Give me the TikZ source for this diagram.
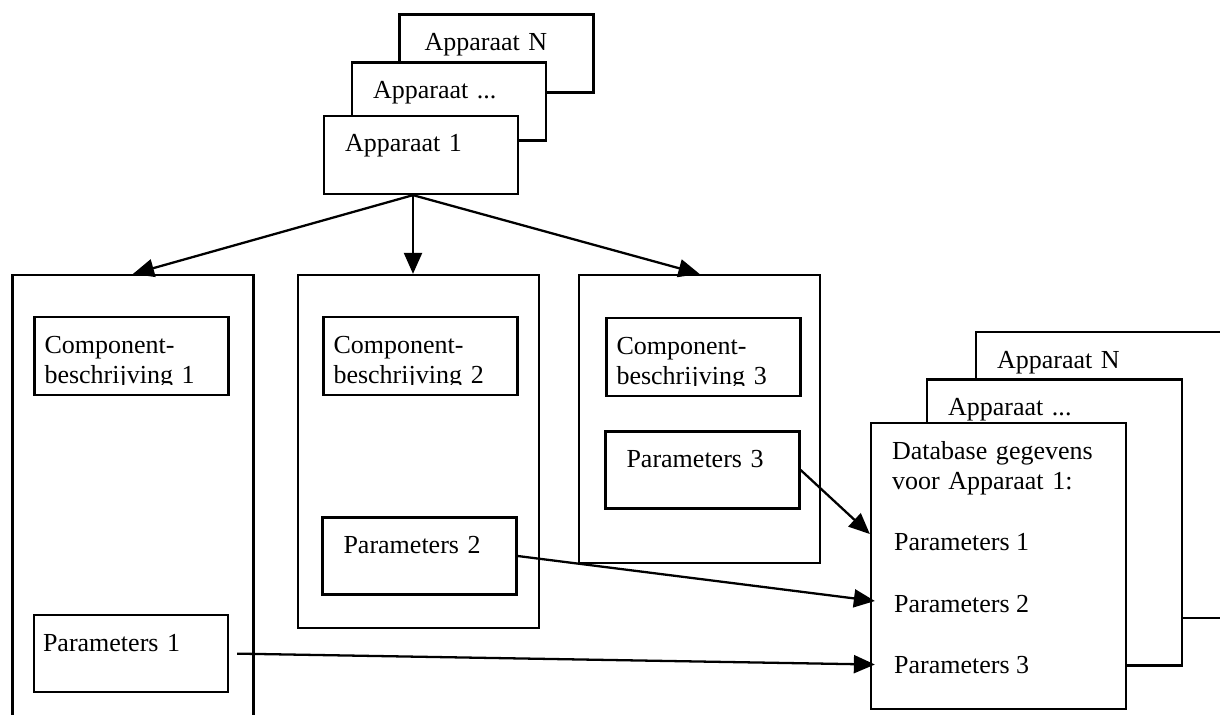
\documentclass[tikz,border=0pt]{standalone}
\usepackage{fontspec}
\setmainfont{Liberation Serif}
\usepackage{tikz}
\usetikzlibrary{arrows.meta, positioning, calc}
\newcommand{\diagfont}{\fontsize{14.8pt}{17.6pt}\selectfont}
\tikzset{
  txtbox/.style={rectangle, draw, fill=white, line width=1.3pt,
    align=left, inner ysep=0.2cm, text height=0.52cm, font=\diagfont},
  appbox/.style={txtbox, inner xsep=0.42cm, text width=3.04cm, text depth=0.64cm},
  compbox/.style={txtbox, inner xsep=0.2cm, text width=3.48cm, text depth=0.64cm},
  parbox/.style={txtbox, inner xsep=0.42cm, text width=3.04cm, text depth=0.62cm},
  dbbox/.style={txtbox, inner xsep=0.42cm, text width=4.26cm, text depth=4.8cm},
  colbox/.style={rectangle, draw, line width=1.3pt, minimum width=4.82cm, inner sep=0pt},
  dbline/.style={anchor=base west, inner sep=1pt, font=\diagfont},
  arrow/.style={-{Triangle[length=0.42cm, width=0.36cm]}, line width=1.3pt}
}
\begin{document}
\begin{tikzpicture}
  \useasboundingbox (0,0) rectangle (24.4,14.28);
  \clip (0,0) rectangle (24.4,14.28);

  % Apparaat stack (top)
  \node[appbox, inner xsep=0.5cm, text width=2.88cm] (apN) at (9.93,13.21) {Apparaat N};
  \node[appbox] (apD) at (8.98,12.25) {Apparaat ...};
  \node[appbox] (ap1) at (8.42,11.18) {Apparaat 1};

  % Columns
  \node[colbox, minimum height=9.3cm] (col1) at (2.66,4.13) {};
  \node[colbox, minimum height=7.06cm] (col2) at (8.37,5.25) {};
  \node[colbox, minimum height=5.76cm] (col3) at (13.99,5.9) {};

  % Component descriptions
  \node[compbox] (c1) at (2.63,7.16) {Component-\\beschrijving 1};
  \node[compbox] (c2) at (8.41,7.16) {Component-\\beschrijving 2};
  \node[compbox] (c3) at (14.07,7.14) {Component-\\beschrijving 3};
  % descenders of the second line are cut off
  \foreach \c in {c1,c2,c3}
    \fill[white] ($(\c.south west)+(0.045,0.045)$) rectangle ($(\c.south east)+(-0.045,0.23)$);

  % Parameters
  \node[parbox, inner xsep=0.18cm, text width=3.52cm] (p1) at (2.62,1.21) {Parameters 1};
  \node[parbox] (p2) at (8.39,3.16) {Parameters 2};
  \node[parbox] (p3) at (14.05,4.88) {Parameters 3};

  % Database stack (right)
  \node[dbbox] (dbN) at (22.07,4.78) {Apparaat N};
  \node[dbbox] (dbD) at (21.09,3.83) {Apparaat ...};
  \node[dbbox] (db) at (19.97,2.96) {Database gegevens\\voor Apparaat 1:};
  \node[dbline] (dbp1) at (17.84,3.28) {Parameters 1};
  \node[dbline] (dbp2) at (17.84,2.04) {Parameters 2};
  \node[dbline] (dbp3) at (17.84,0.82) {Parameters 3};

  % Arrows from Apparaat 1
  \coordinate (fork) at ($(ap1.south)+(-0.16,0)$);
  \draw[arrow] (fork) -- (col1.north);
  \draw[arrow] (fork) -- (fork |- col2.north);
  \draw[arrow] (fork) -- (col3.north);

  % Arrows to database
  \draw[arrow] (p3.east) -- ($(db.west |- dbp1.west)+(0,0.15)$);
  \draw[arrow] (p2.east) -- ($(db.west |- dbp2.west)+(0.1,0.05)$);
  \draw[arrow, shorten <=0.16cm] (p1.east) -- ($(db.west |- dbp3.west)+(0.1,0)$);
\end{tikzpicture}
\end{document}
